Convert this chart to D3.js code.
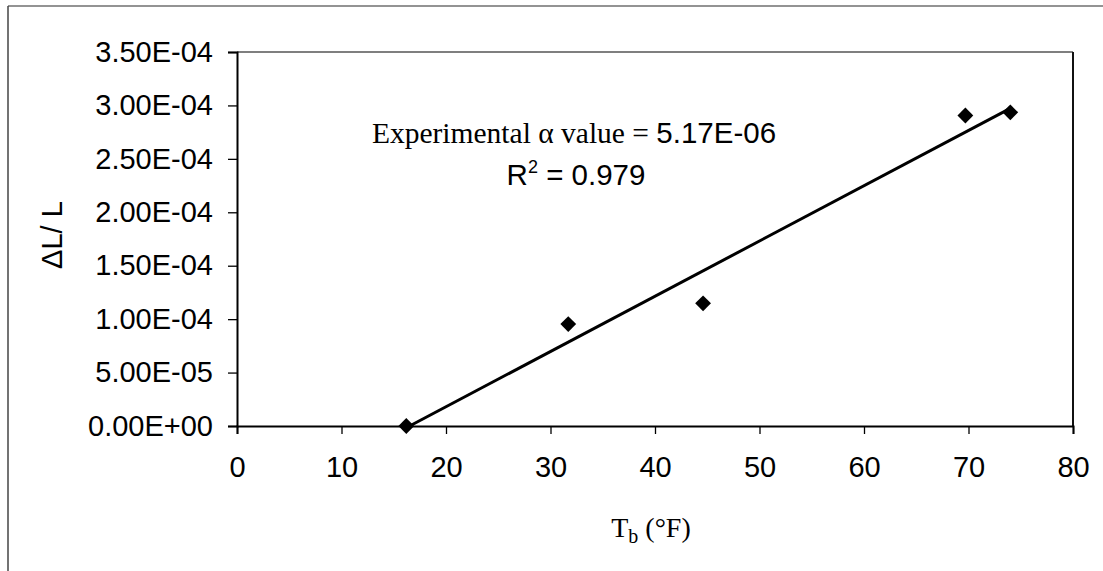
<!DOCTYPE html>
<html>
<head>
<meta charset="utf-8">
<script src="https://cdn.jsdelivr.net/npm/d3@7"></script>
<style>
  html, body { margin: 0; padding: 0; background: #fff; }
  svg { display: block; }
</style>
</head>
<body>
<svg id="chart" width="1103" height="571"></svg>
<script>
// Bath temperature (°F) and measured strain ΔL/L
const temperatures = [16.2, 31.7, 44.6, 69.7, 74.0];
const strains = [0, 9.54e-5, 1.148e-4, 2.906e-4, 2.935e-4];

// Linear fit: slope is the reported coefficient
const fitSlope = 5.17e-6;
const fitR2 = 0.979;

const xTicks = [0, 10, 20, 30, 40, 50, 60, 70, 80];
const yTicks = [0, 5e-5, 1e-4, 1.5e-4, 2e-4, 2.5e-4, 3e-4, 3.5e-4];
const yTickLabels = ["0.00E+00", "5.00E-05", "1.00E-04", "1.50E-04",
                     "2.00E-04", "2.50E-04", "3.00E-04", "3.50E-04"];

// Spreadsheet-style scientific notation, e.g. 5.17E-06
function sci(v) {
  const [m, e] = v.toExponential(2).split("e");
  const n = Math.abs(+e);
  return m + "E" + (+e < 0 ? "-" : "+") + (n < 10 ? "0" + n : n);
}

const svg = d3.select("#chart");
const plot = { left: 237, right: 1073, top: 52, bottom: 426 };

const x = d3.scaleLinear().domain([0, 80]).range([plot.left, plot.right]);
const y = d3.scaleLinear().domain([0, 3.5e-4]).range([plot.bottom, plot.top]);

// Outer chart frame (top and left edges)
svg.append("line")
  .attr("x1", 8).attr("x2", 1103).attr("y1", 6).attr("y2", 6)
  .attr("stroke", "#6f6f6f").attr("stroke-width", 1.5);
svg.append("line")
  .attr("x1", 8).attr("x2", 8).attr("y1", 6).attr("y2", 571)
  .attr("stroke", "#444").attr("stroke-width", 1.5);

// Plot-area frame: top and right
svg.append("line")
  .attr("x1", plot.left).attr("x2", plot.right)
  .attr("y1", plot.top).attr("y2", plot.top)
  .attr("stroke", "#555").attr("stroke-width", 1.5);
svg.append("line")
  .attr("x1", plot.right).attr("x2", plot.right)
  .attr("y1", plot.top).attr("y2", plot.bottom)
  .attr("stroke", "#111").attr("stroke-width", 2);

// Y axis
const yAxis = d3.axisLeft(y)
  .tickValues(yTicks)
  .tickSize(9)
  .tickPadding(15)
  .tickFormat((d, i) => yTickLabels[i]);
const gy = svg.append("g")
  .attr("transform", `translate(${plot.left},0)`)
  .call(yAxis);

// X axis
const xAxis = d3.axisBottom(x)
  .tickValues(xTicks)
  .tickSize(8)
  .tickPadding(22)
  .tickFormat(d3.format("d"));
const gx = svg.append("g")
  .attr("transform", `translate(0,${plot.bottom})`)
  .call(xAxis);

[gx, gy].forEach(g => {
  g.select(".domain").attr("stroke", "#000").attr("stroke-width", 2);
  g.selectAll(".tick line").attr("stroke", "#000").attr("stroke-width", 1.3);
  g.selectAll(".tick text")
    .attr("fill", "#000")
    .style("font-family", "'Liberation Sans', Arial, sans-serif")
    .style("font-size", "29px");
});

// Trend line across the measured range
const meanX = d3.mean(temperatures);
const meanY = d3.mean(strains);
const fitIntercept = meanY - fitSlope * meanX;
const [xMin, xMax] = d3.extent(temperatures);
svg.append("line")
  .attr("x1", x(xMin)).attr("y1", y(fitSlope * xMin + fitIntercept))
  .attr("x2", x(xMax)).attr("y2", y(fitSlope * xMax + fitIntercept))
  .attr("stroke", "#000").attr("stroke-width", 3);

// Data markers (diamonds)
const diamond = d3.symbol().type(d3.symbolSquare).size(125);
svg.append("g").selectAll("path")
  .data(temperatures.map((t, i) => [t, strains[i]]))
  .join("path")
  .attr("d", diamond)
  .attr("transform", d => `translate(${x(d[0])},${y(d[1])}) rotate(45)`)
  .attr("fill", "#000");

// Fit annotation
const note = svg.append("text")
  .attr("x", 574).attr("y", 143)
  .attr("text-anchor", "middle")
  .attr("fill", "#000")
  .style("font-size", "29.5px");
note.append("tspan")
  .style("font-family", "'Liberation Serif', 'Times New Roman', serif")
  .text("Experimental α value = ");
note.append("tspan")
  .style("font-family", "'Liberation Sans', Arial, sans-serif")
  .text(sci(fitSlope));

const r2 = svg.append("text")
  .attr("x", 576).attr("y", 185)
  .attr("text-anchor", "middle")
  .attr("fill", "#000")
  .style("font-family", "'Liberation Sans', Arial, sans-serif")
  .style("font-size", "29.5px");
r2.append("tspan").text("R");
r2.append("tspan").attr("dy", -12).style("font-size", "18px").text("2");
r2.append("tspan").attr("dy", 12).text(" = " + fitR2.toFixed(3));

// Axis titles
svg.append("text")
  .attr("transform", "translate(62,235) rotate(-90)")
  .attr("text-anchor", "middle")
  .attr("fill", "#000")
  .style("font-family", "'Liberation Sans', Arial, sans-serif")
  .style("font-size", "29px")
  .text("ΔL/ L");

const xt = svg.append("text")
  .attr("x", 651).attr("y", 537)
  .attr("text-anchor", "middle")
  .attr("fill", "#000")
  .style("font-family", "'Liberation Serif', 'Times New Roman', serif")
  .style("font-size", "28px");
xt.append("tspan").text("T");
xt.append("tspan").attr("dy", 6).style("font-size", "20px").text("b");
xt.append("tspan").attr("dy", -6).text(" (°F)");
</script>
</body>
</html>
